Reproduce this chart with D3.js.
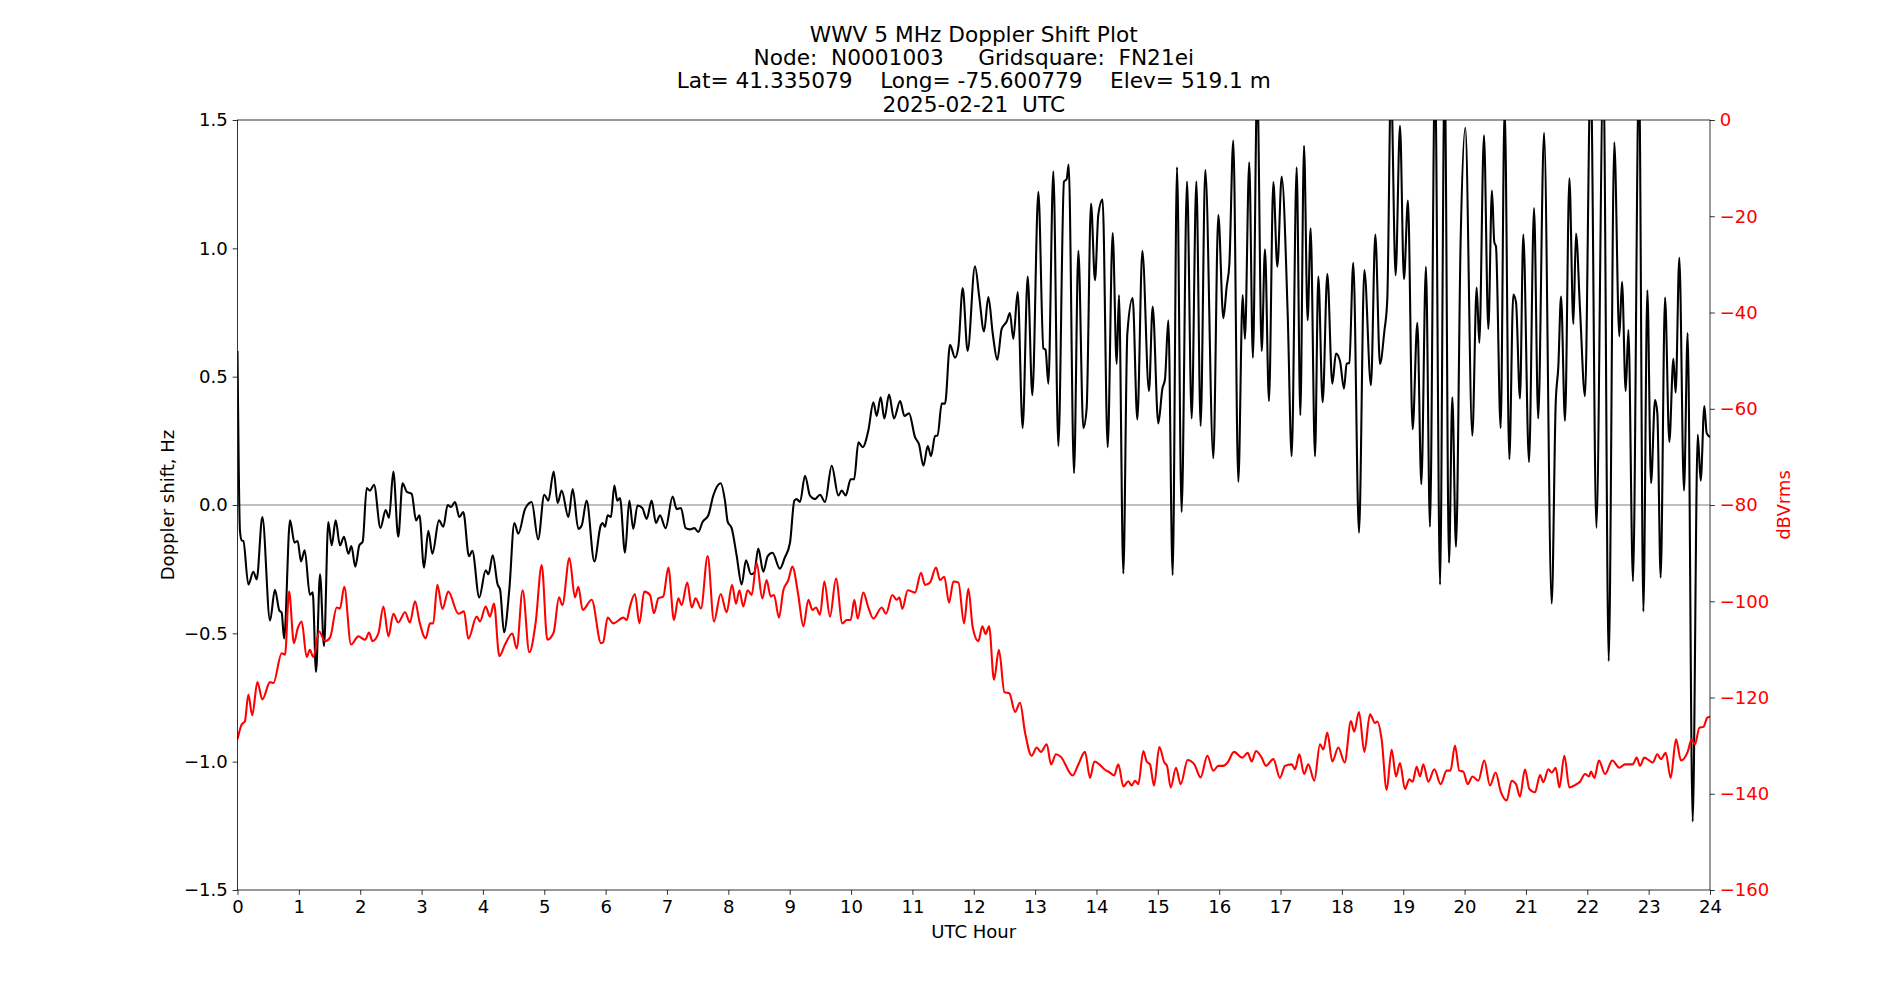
<!DOCTYPE html>
<html><head><meta charset="utf-8">
<script src="https://cdn.jsdelivr.net/npm/d3@7"></script>
<style>
html,body{margin:0;padding:0;background:#fff;}
svg{display:block;font-family:"DejaVu Sans",sans-serif;}
text{white-space:pre;}
</style></head><body>
<svg id="chart" width="1900" height="1000"></svg>
<script>
// ---------- DATA ----------
const titleLines = [
  "WWV 5 MHz Doppler Shift Plot",
  "Node:  N0001003     Gridsquare:  FN21ei",
  "Lat= 41.335079    Long= -75.600779    Elev= 519.1 m",
  "2025-02-21  UTC"
];
const xLabel = "UTC Hour";
const yLabelLeft = "Doppler shift, Hz";
const yLabelRight = "dBVrms";
const xTicks = d3.range(0, 25, 1);
const yTicksLeft = [-1.5, -1.0, -0.5, 0.0, 0.5, 1.0, 1.5];
const yTicksRight = [-160, -140, -120, -100, -80, -60, -40, -20, 0];

const dopplerHours = [0.000,0.040,0.068,0.095,0.177,0.258,0.313,0.405,0.530,0.610,0.680,0.720,0.760,0.856,0.930,0.980,1.035,1.095,1.180,1.226,1.280,1.345,1.410,1.480,1.535,1.600,1.670,1.736,1.807,1.856,1.920,1.986,2.040,2.106,2.160,2.225,2.330,2.415,2.470,2.540,2.620,2.690,2.758,2.840,2.910,2.965,3.040,3.110,3.176,3.284,3.355,3.425,3.480,3.545,3.616,3.680,3.773,3.827,3.940,4.045,4.090,4.160,4.240,4.280,4.344,4.430,4.512,4.577,4.686,4.795,4.900,5.000,5.066,5.153,5.218,5.284,5.393,5.463,5.555,5.610,5.690,5.816,5.920,5.950,5.990,6.033,6.087,6.142,6.190,6.234,6.316,6.386,6.450,6.520,6.598,6.670,6.750,6.820,6.886,6.978,7.092,7.158,7.228,7.304,7.375,7.446,7.510,7.580,7.674,7.755,7.875,7.945,7.990,8.054,8.135,8.217,8.288,8.370,8.423,8.488,8.570,8.640,8.720,8.840,8.920,9.005,9.076,9.114,9.168,9.250,9.330,9.413,9.494,9.576,9.685,9.793,9.848,9.913,9.994,10.050,10.120,10.190,10.282,10.364,10.418,10.483,10.543,10.620,10.700,10.800,10.870,10.945,11.043,11.108,11.180,11.250,11.304,11.370,11.410,11.478,11.532,11.613,11.695,11.750,11.820,11.900,12.020,12.090,12.167,12.238,12.310,12.384,12.455,12.537,12.590,12.645,12.716,12.797,12.879,12.955,13.053,13.135,13.170,13.216,13.297,13.379,13.471,13.515,13.547,13.634,13.705,13.786,13.840,13.911,13.976,14.030,14.100,14.183,14.264,14.330,14.367,14.438,14.503,14.590,14.666,14.748,14.856,14.916,15.008,15.074,15.117,15.171,15.242,15.313,15.388,15.476,15.552,15.628,15.698,15.774,15.905,15.986,16.068,16.122,16.166,16.230,16.312,16.383,16.420,16.490,16.550,16.620,16.693,16.747,16.812,16.883,16.948,17.019,17.117,17.182,17.263,17.323,17.383,17.442,17.491,17.562,17.616,17.687,17.763,17.844,17.904,17.970,18.034,18.078,18.121,18.186,18.279,18.366,18.474,18.545,18.621,18.692,18.740,18.800,18.876,18.947,19.012,19.077,19.153,19.230,19.295,19.370,19.436,19.518,19.600,19.675,19.746,19.800,19.860,19.936,20.012,20.126,20.197,20.240,20.316,20.387,20.446,20.484,20.512,20.588,20.653,20.729,20.794,20.838,20.903,20.957,21.050,21.132,21.200,21.295,21.420,21.485,21.528,21.572,21.637,21.708,21.773,21.816,21.881,21.963,22.055,22.148,22.262,22.349,22.440,22.522,22.566,22.626,22.670,22.745,22.843,22.914,22.979,23.039,23.104,23.142,23.196,23.267,23.337,23.403,23.440,23.500,23.576,23.636,23.718,23.800,23.848,23.908,23.946,24.000];
const dopplerHz = [0.60,-0.10,-0.138,-0.14,-0.31,-0.26,-0.29,-0.047,-0.45,-0.33,-0.41,-0.42,-0.52,-0.06,-0.147,-0.14,-0.22,-0.176,-0.35,-0.34,-0.65,-0.27,-0.55,-0.066,-0.157,-0.06,-0.157,-0.124,-0.19,-0.16,-0.24,-0.157,-0.143,0.066,0.056,0.079,-0.089,-0.02,-0.05,0.13,-0.124,0.085,0.052,0.043,-0.06,-0.04,-0.244,-0.10,-0.19,-0.06,-0.085,0.0,-0.008,0.012,-0.047,-0.027,-0.20,-0.178,-0.36,-0.254,-0.27,-0.196,-0.31,-0.33,-0.496,-0.33,-0.07,-0.112,-0.016,0.012,-0.134,0.04,0.017,0.13,0.008,0.056,-0.047,0.062,-0.093,-0.08,0.017,-0.22,-0.08,-0.07,-0.085,-0.04,-0.047,0.076,0.017,0.027,-0.186,0.017,-0.093,-0.002,-0.012,-0.054,0.017,-0.07,-0.04,-0.09,0.033,-0.016,-0.012,-0.09,-0.095,-0.09,-0.105,-0.066,-0.04,0.037,0.085,0.017,-0.066,-0.09,-0.196,-0.31,-0.215,-0.27,-0.264,-0.17,-0.26,-0.20,-0.186,-0.248,-0.205,-0.147,0.017,0.023,0.012,0.114,0.037,0.023,0.04,0.012,0.153,0.037,0.056,0.037,0.10,0.10,0.244,0.225,0.29,0.40,0.347,0.42,0.337,0.43,0.337,0.405,0.347,0.357,0.264,0.236,0.153,0.23,0.19,0.27,0.27,0.395,0.395,0.624,0.574,0.618,0.845,0.60,0.93,0.81,0.676,0.81,0.667,0.566,0.686,0.715,0.748,0.647,0.83,0.30,0.89,0.428,1.22,0.61,0.605,0.473,1.30,0.23,1.26,1.27,1.326,0.124,0.99,0.30,0.376,1.175,0.876,1.13,1.19,0.225,1.06,0.55,0.818,-0.267,0.667,0.806,0.333,0.99,0.444,0.773,0.318,0.453,0.49,0.72,-0.273,1.316,-0.027,1.26,0.337,1.26,0.308,1.306,0.182,1.13,0.728,0.85,0.938,1.42,0.09,0.818,0.647,1.335,0.574,1.65,0.60,0.996,0.405,1.258,0.928,1.28,0.744,0.19,1.316,0.35,1.40,0.72,1.078,0.19,0.89,0.40,0.90,0.473,0.59,0.56,0.453,0.55,0.554,0.944,-0.108,0.915,0.467,1.054,0.55,0.676,0.80,1.65,0.895,1.477,0.88,1.186,0.295,0.71,0.081,0.928,-0.085,1.70,-0.31,1.70,-0.225,0.42,-0.163,1.035,1.47,0.27,0.847,0.632,1.44,0.686,1.225,1.025,1.006,0.30,1.55,0.178,0.82,0.79,0.415,1.054,0.167,1.157,0.337,1.45,-0.384,0.395,0.54,0.812,0.328,1.273,0.705,1.058,0.764,0.424,1.70,-0.089,1.70,-0.608,1.413,0.657,0.87,0.444,0.682,-0.297,1.70,-0.415,0.837,0.085,0.41,0.357,-0.283,0.808,0.246,0.57,0.438,0.963,0.056,0.67,-1.233,0.275,0.095,0.386,0.28,0.264];

const powerHours = [0.000,0.068,0.120,0.177,0.240,0.324,0.405,0.530,0.585,0.720,0.775,0.840,0.920,0.980,1.046,1.127,1.180,1.236,1.330,1.427,1.510,1.617,1.670,1.740,1.850,1.970,2.080,2.144,2.200,2.296,2.378,2.460,2.540,2.620,2.730,2.810,2.894,2.965,3.067,3.138,3.190,3.257,3.340,3.436,3.600,3.692,3.762,3.898,3.952,4.045,4.115,4.180,4.268,4.360,4.480,4.550,4.648,4.756,4.860,4.958,5.050,5.153,5.240,5.295,5.410,5.500,5.555,5.626,5.773,5.925,5.960,6.033,6.125,6.290,6.343,6.397,6.478,6.550,6.630,6.723,6.788,6.859,6.940,7.022,7.114,7.185,7.239,7.331,7.402,7.467,7.554,7.663,7.766,7.875,7.973,8.060,8.125,8.180,8.244,8.315,8.380,8.461,8.554,8.624,8.690,8.744,8.826,8.896,8.978,9.044,9.140,9.223,9.304,9.370,9.430,9.494,9.565,9.657,9.755,9.859,9.929,9.994,10.054,10.108,10.200,10.282,10.364,10.500,10.570,10.673,10.744,10.788,10.836,10.923,11.043,11.140,11.206,11.287,11.385,11.450,11.520,11.597,11.668,11.750,11.842,11.912,11.983,12.075,12.140,12.194,12.250,12.330,12.410,12.500,12.580,12.673,12.754,12.836,12.944,13.026,13.096,13.190,13.260,13.340,13.417,13.612,13.705,13.813,13.895,13.966,14.047,14.128,14.220,14.286,14.357,14.438,14.520,14.574,14.628,14.682,14.764,14.818,14.873,14.938,15.025,15.106,15.150,15.210,15.296,15.372,15.486,15.595,15.698,15.807,15.905,15.986,16.068,16.138,16.242,16.377,16.464,16.530,16.600,16.693,16.763,16.883,16.991,17.073,17.182,17.236,17.307,17.383,17.453,17.551,17.643,17.698,17.763,17.844,17.942,18.045,18.148,18.200,18.279,18.366,18.458,18.540,18.578,18.648,18.730,18.811,18.882,18.947,19.028,19.100,19.153,19.219,19.273,19.327,19.409,19.507,19.610,19.708,19.770,19.843,19.914,19.980,20.050,20.131,20.224,20.321,20.414,20.506,20.588,20.686,20.767,20.838,20.903,20.984,21.055,21.148,21.230,21.284,21.365,21.420,21.485,21.545,21.626,21.708,21.800,21.881,21.963,22.028,22.060,22.115,22.190,22.289,22.408,22.522,22.615,22.740,22.805,22.860,22.930,23.066,23.142,23.200,23.278,23.359,23.446,23.527,23.636,23.702,23.756,23.826,23.892,23.957,24.000];
const powerDb = [-128.7,-125.6,-125.0,-119.4,-123.7,-116.8,-120.4,-116.8,-117.0,-110.8,-111.1,-98.0,-108.7,-105.7,-104.2,-111.6,-110.1,-111.6,-106.3,-108.3,-107.5,-101.3,-101.5,-97.0,-109.0,-107.3,-108.0,-106.5,-108.3,-106.7,-101.1,-107.3,-102.6,-104.4,-102.3,-104.4,-100.0,-104.2,-107.7,-104.6,-104.6,-96.6,-101.6,-98.0,-102.6,-102.1,-107.8,-103.2,-104.2,-101.1,-103.2,-100.5,-111.4,-109.0,-106.7,-109.8,-97.7,-110.6,-104.4,-92.5,-108.0,-106.5,-99.2,-100.8,-91.0,-99.2,-97.0,-101.8,-99.7,-108.7,-108.5,-103.4,-104.6,-103.4,-103.9,-101.1,-98.5,-104.6,-98.0,-98.7,-102.5,-99.4,-99.0,-93.0,-103.9,-99.4,-100.8,-96.1,-101.3,-99.4,-101.5,-90.6,-104.2,-98.5,-102.3,-96.6,-100.5,-97.7,-101.1,-97.7,-98.7,-92.0,-99.4,-95.6,-99.0,-98.7,-103.4,-97.7,-95.6,-92.8,-98.7,-105.2,-99.7,-101.8,-101.3,-102.8,-95.9,-103.2,-95.3,-104.6,-103.9,-103.9,-99.7,-103.6,-98.2,-101.3,-103.6,-101.3,-102.6,-98.7,-99.7,-99.2,-101.6,-97.7,-98.2,-94.1,-96.6,-96.1,-93.0,-95.6,-94.9,-100.3,-95.9,-96.1,-104.6,-97.4,-105.4,-108.3,-105.2,-106.8,-105.2,-116.3,-110.1,-118.9,-119.1,-123.0,-121.1,-127.3,-132.1,-130.4,-131.3,-129.7,-133.9,-131.8,-132.3,-136.2,-133.9,-131.3,-136.7,-133.3,-133.9,-134.9,-135.6,-136.2,-133.9,-138.5,-137.4,-138.3,-137.3,-138.0,-131.1,-133.3,-133.9,-138.3,-130.3,-133.5,-134.2,-138.7,-134.6,-138.0,-133.0,-133.9,-136.6,-132.1,-135.2,-134.2,-134.2,-133.5,-131.3,-132.5,-131.5,-133.3,-131.1,-132.5,-134.2,-132.8,-136.7,-134.2,-133.9,-134.9,-131.8,-135.9,-133.9,-137.3,-129.7,-130.8,-127.3,-133.3,-130.4,-133.5,-124.9,-127.1,-123.0,-131.3,-123.5,-125.3,-125.0,-128.7,-139.2,-130.8,-136.4,-133.6,-139.0,-137.0,-137.5,-134.4,-136.4,-133.9,-137.5,-134.9,-138.0,-135.2,-135.2,-130.0,-135.2,-135.4,-138.0,-136.4,-137.3,-133.1,-138.3,-135.6,-139.5,-141.4,-137.3,-138.0,-140.6,-134.9,-139.0,-139.7,-136.1,-137.6,-134.9,-135.6,-134.6,-138.7,-132.1,-138.7,-138.2,-137.5,-135.9,-136.4,-135.4,-136.7,-133.1,-135.9,-133.1,-134.6,-133.9,-133.9,-132.5,-134.2,-132.5,-133.5,-131.8,-132.8,-131.5,-136.7,-128.7,-133.1,-131.3,-128.7,-129.7,-126.3,-126.1,-124.2,-124.0];

// ---------- LAYOUT ----------
const W = 1900, H = 1000;
const m = {left: 237.5, right: 1710, top: 120, bottom: 890};
const px = 100/72;
const tickLen = 3.5*px, tickPad = 3.5*px;
const tickFont = 13*px, labelFont = 13*px, titleFont = 15.6*px;

const svg = d3.select("#chart");

const x = d3.scaleLinear().domain([0, 24]).range([m.left, m.right]);
const yL = d3.scaleLinear().domain([-1.5, 1.5]).range([m.bottom, m.top]);
const yR = d3.scaleLinear().domain([-160, 0]).range([m.bottom, m.top]);

svg.append("defs").append("clipPath").attr("id", "plotclip")
  .append("rect").attr("x", m.left).attr("y", m.top)
  .attr("width", m.right - m.left).attr("height", m.bottom - m.top);

const plot = svg.append("g").attr("clip-path", "url(#plotclip)");

// zero line
plot.append("line")
  .attr("x1", x(0)).attr("x2", x(24))
  .attr("y1", yL(0)).attr("y2", yL(0))
  .attr("stroke", "#808080").attr("stroke-width", 1.1);

const dopplerData = dopplerHours.map((h, i) => [h, dopplerHz[i]]);
const powerData = powerHours.map((h, i) => [h, powerDb[i]]);

plot.append("path")
  .datum(dopplerData)
  .attr("fill", "none").attr("stroke", "#000").attr("stroke-width", 2.08)
  .attr("stroke-linejoin", "round")
  .attr("d", d3.line().x(d => x(d[0])).y(d => yL(d[1])).curve(d3.curveMonotoneX));

plot.append("path")
  .datum(powerData)
  .attr("fill", "none").attr("stroke", "#ff0000").attr("stroke-width", 2.08)
  .attr("stroke-linejoin", "round")
  .attr("d", d3.line().x(d => x(d[0])).y(d => yR(d[1])).curve(d3.curveMonotoneX));

// axes
function styleAxis(g, color) {
  g.selectAll(".domain").remove();
  g.selectAll(".tick line").attr("stroke", "#000").attr("stroke-width", 0.8);
  g.selectAll(".tick text").attr("fill", color)
    .attr("font-family", "DejaVu Sans").attr("font-size", tickFont);
}

const gx = svg.append("g").attr("transform", `translate(0,${m.bottom})`)
  .call(d3.axisBottom(x).tickValues(xTicks).tickFormat(d3.format("d"))
    .tickSizeInner(tickLen).tickSizeOuter(0).tickPadding(tickPad));
styleAxis(gx, "#000");

const gyl = svg.append("g").attr("transform", `translate(${m.left},0)`)
  .call(d3.axisLeft(yL).tickValues(yTicksLeft).tickFormat(d3.format(".1f"))
    .tickSizeInner(tickLen).tickSizeOuter(0).tickPadding(tickPad));
styleAxis(gyl, "#000");

const gyr = svg.append("g").attr("transform", `translate(${m.right},0)`)
  .call(d3.axisRight(yR).tickValues(yTicksRight).tickFormat(d3.format("d"))
    .tickSizeInner(tickLen).tickSizeOuter(0).tickPadding(tickPad));
styleAxis(gyr, "#ff0000");

// frame
svg.append("rect")
  .attr("x", m.left).attr("y", m.top)
  .attr("width", m.right - m.left).attr("height", m.bottom - m.top)
  .attr("fill", "none").attr("stroke", "#000").attr("stroke-width", 0.8);

// labels
svg.append("text")
  .attr("x", (m.left + m.right)/2).attr("y", 937.5)
  .attr("text-anchor", "middle").attr("font-size", labelFont)
  .text(xLabel);

svg.append("text")
  .attr("transform", `translate(173.5,${(m.top + m.bottom)/2}) rotate(-90)`)
  .attr("text-anchor", "middle").attr("font-size", labelFont)
  .text(yLabelLeft);

svg.append("text")
  .attr("transform", `translate(1790,${(m.top + m.bottom)/2}) rotate(-90)`)
  .attr("text-anchor", "middle").attr("font-size", labelFont)
  .attr("fill", "#ff0000")
  .text(yLabelRight);

// title
const lineStep = 23.2;
const lastBaseline = 111.5;
titleLines.forEach((t, i) => {
  svg.append("text")
    .attr("x", (m.left + m.right)/2)
    .attr("y", lastBaseline - (titleLines.length - 1 - i) * lineStep)
    .attr("text-anchor", "middle").attr("font-size", titleFont)
    .text(t);
});
</script>
</body></html>
